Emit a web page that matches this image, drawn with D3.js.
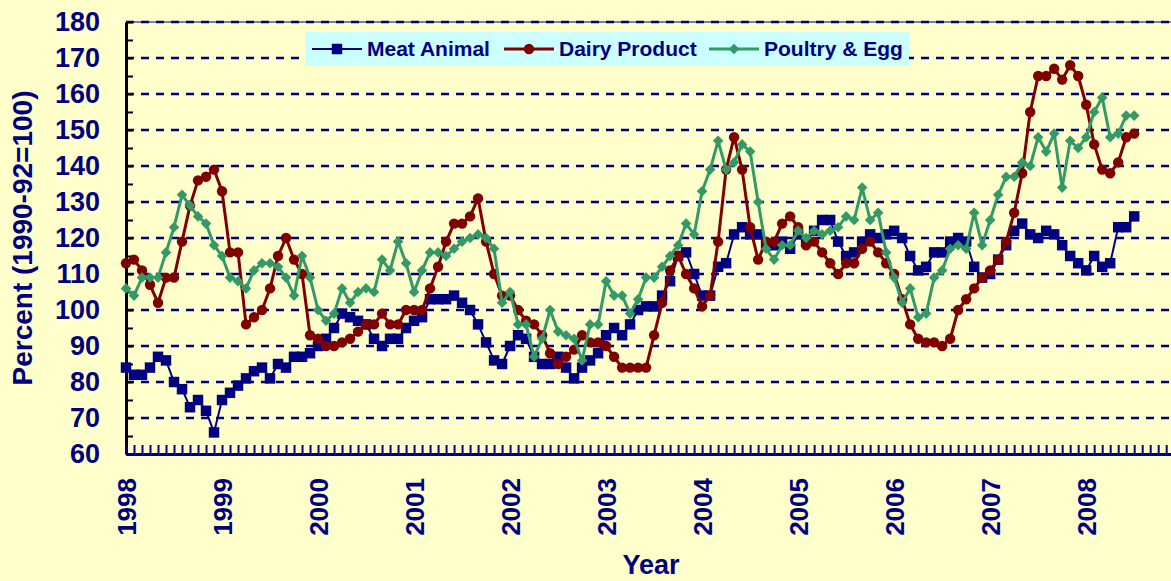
<!DOCTYPE html>
<html>
<head>
<meta charset="utf-8">
<script src="https://cdn.jsdelivr.net/npm/d3@7"></script>
<style>
  body { margin: 0; background: #ffffcc; }
  svg { display: block; }
  text { font-family: Arial, "Liberation Sans", sans-serif; font-weight: bold; fill: #000080; }
</style>
</head>
<body>
<svg class="chart"></svg>
<script>
// year labels on the x axis (one every 12 months, Jan 1998 .. Jan 2008)
var years = ["1998", "1999", "2000", "2001", "2002", "2003", "2004", "2005", "2006", "2007", "2008"];

var seriesNames = ["Meat Animal", "Dairy Product", "Poultry & Egg"];

// monthly index values, Jan 1998 .. Jul 2008
var meatAnimal = [
  84, 82, 82, 84, 87, 86, 80, 78, 73, 75, 72, 66,
  75, 77, 79, 81, 83, 84, 81, 85, 84, 87, 87, 88,
  90, 92, 95, 99, 98, 97, 96, 92, 90, 92, 92, 95,
  97, 98, 103, 103, 103, 104, 102, 100, 96, 91, 86, 85,
  90, 93, 92, 87, 85, 85, 87, 84, 81, 84, 86, 88,
  93, 95, 93, 96, 100, 101, 101, 104, 108, 115, 116, 110,
  104, 104, 112, 113, 121, 123, 121, 121, 118, 118, 119, 117,
  121, 119, 122, 125, 125, 119, 115, 116, 119, 121, 120, 121,
  122, 120, 115, 111, 112, 116, 116, 119, 120, 119, 112, 109,
  110, 114, 118, 122, 124, 121, 120, 122, 121, 118, 115, 113,
  111, 115, 112, 113, 123, 123, 126
];

var dairyProduct = [
  113, 114, 111, 107, 102, 109, 109, 119, 129, 136, 137, 139,
  133, 116, 116, 96, 98, 100, 106, 115, 120, 114, 110, 93,
  92, 90, 90, 91, 92, 94, 96, 96, 99, 96, 96, 100,
  100, 100, 106, 112, 119, 124, 124, 126, 131, 119, 110, 104,
  104, 100, 97, 96, 93, 88, 85, 87, 89, 93, 91, 91,
  90, 87, 84, 84, 84, 84, 93, 102, 111, 115, 110, 106,
  101, 104, 119, 139, 148, 139, 123, 114, 119, 119, 124, 126,
  123, 118, 119, 116, 113, 110, 113, 113, 117, 119, 116, 113,
  110, 103, 96, 92, 91, 91, 90, 92, 100, 103, 106, 109,
  111, 114, 119, 127, 138, 155, 165, 165, 167, 164, 168, 165,
  157, 146, 139, 138, 141, 148, 149
];

var poultryEgg = [
  106, 104, 109, 109, 109, 116, 123, 132, 129, 126, 124, 118,
  115, 109, 108, 106, 111, 113, 113, 112, 109, 104, 115, 109,
  100, 97, 99, 106, 102, 105, 106, 105, 114, 111, 119, 113,
  105, 111, 116, 116, 115, 117, 119, 120, 121, 120, 117, 102,
  105, 96, 96, 87, 92, 100, 94, 93, 92, 86, 96, 96,
  108, 104, 104, 99, 103, 109, 109, 112, 115, 118, 124, 121,
  133, 139, 147, 139, 141, 146, 144, 130, 117, 114, 118, 118,
  122, 120, 122, 121, 122, 123, 126, 125, 134, 125, 127, 116,
  109, 102, 106, 98, 99, 109, 111, 117, 118, 117, 127, 118,
  125, 132, 137, 137, 141, 140, 148, 144, 149, 134, 147, 145,
  148, 155, 159, 148, 149, 154, 154
];

var width = 1171, height = 581;

var svg = d3.select(".chart")
    .attr("width", width)
    .attr("height", height);

svg.append("rect")
    .attr("width", width)
    .attr("height", height)
    .attr("fill", "#ffffcc");

// month index -> pixel, the plot runs off the right edge of the picture
var x = d3.scaleLinear()
    .domain([0, 130.6])
    .range([126, 1171]);

var y = d3.scaleLinear()
    .domain([60, 180])
    .range([454, 22]);

// dashed horizontal grid
svg.append("g")
    .selectAll("line")
    .data(d3.range(70, 181, 10))
  .enter().append("line")
    .attr("x1", x(0))
    .attr("x2", width)
    .attr("y1", function(d){ return y(d); })
    .attr("y2", function(d){ return y(d); })
    .attr("stroke", "#000080")
    .attr("stroke-width", 2.6)
    .attr("stroke-dasharray", "8,7");

svg.append("line")
    .attr("x1", x(0)).attr("x2", width)
    .attr("y1", y(180)).attr("y2", y(180))
    .attr("stroke", "#000080")
    .attr("stroke-width", 1);

// y axis: black line, ticks every 5 pointing into the plot
var yTicks = svg.append("g")
    .attr("transform", "translate(" + x(0) + ",0)")
    .call(d3.axisRight(y)
      .tickValues(d3.range(60, 181, 5))
      .tickSize(7)
      .tickSizeOuter(0)
      .tickFormat(""));
yTicks.selectAll("line").attr("stroke", "#000").attr("stroke-width", 2);
yTicks.select(".domain").attr("stroke", "#000").attr("stroke-width", 3);

// y labels
var yLabels = svg.append("g")
    .attr("transform", "translate(" + x(0) + ",0)")
    .call(d3.axisLeft(y)
      .tickValues(d3.range(60, 181, 10))
      .tickSize(0)
      .tickPadding(26));
yLabels.select(".domain").remove();
yLabels.selectAll("text")
    .style("font-size", "27px")
    .style("font-family", "Arial, 'Liberation Sans', sans-serif")
    .style("font-weight", "bold")
    .attr("fill", "#000080");

// x axis: navy line with monthly ticks pointing up
var xTicks = svg.append("g")
    .attr("transform", "translate(0," + y(60) + ")")
    .call(d3.axisTop(x)
      .tickValues(d3.range(0, 131))
      .tickSize(9)
      .tickSizeOuter(0)
      .tickFormat(""));
xTicks.selectAll("line").attr("stroke", "#000080").attr("stroke-width", 2);
xTicks.select(".domain").attr("stroke", "#000080").attr("stroke-width", 3);

// rotated year labels
var xLabels = svg.append("g")
    .attr("transform", "translate(0," + y(60) + ")")
    .call(d3.axisBottom(x)
      .tickValues(years.map(function(d, i){ return i * 12; }))
      .tickSize(0)
      .tickFormat(function(d){ return years[d / 12]; }));
xLabels.select(".domain").remove();
xLabels.selectAll("text")
    .attr("transform", "translate(0,24) rotate(-90)")
    .attr("x", 0)
    .attr("y", 0)
    .attr("dy", "0.36em")
    .attr("text-anchor", "end")
    .style("font-size", "26px")
    .style("font-family", "Arial, 'Liberation Sans', sans-serif")
    .style("font-weight", "bold")
    .attr("fill", "#000080");

// axis titles
svg.append("text")
    .attr("transform", "translate(22,238) rotate(-90)")
    .attr("text-anchor", "middle")
    .attr("dy", "0.36em")
    .style("font-size", "28px")
    .text("Percent (1990-92=100)");

svg.append("text")
    .attr("x", 651)
    .attr("y", 574)
    .attr("text-anchor", "middle")
    .style("font-size", "27px")
    .text("Year");

// series
var line = d3.line()
    .x(function(d, i){ return x(i); })
    .y(function(d){ return y(d); });

var series = [
  {name: seriesNames[0], values: meatAnimal, color: "#000080", width: 2},
  {name: seriesNames[1], values: dairyProduct, color: "#800000", width: 3},
  {name: seriesNames[2], values: poultryEgg, color: "#339966", width: 3}
];

var square = d3.symbol().type(d3.symbolSquare).size(110);
var circle = d3.symbol().type(d3.symbolCircle).size(85);
var diamond = d3.symbol().type(d3.symbolSquare).size(56);

function marker(sel, k, color) {
  if (k === 0) {
    sel.attr("d", square);
  } else if (k === 1) {
    sel.attr("d", circle);
  } else {
    sel.attr("d", diamond);
  }
  sel.attr("fill", color);
}

series.forEach(function(s, k){
  var g = svg.append("g");
  g.append("path")
      .datum(s.values)
      .attr("fill", "none")
      .attr("stroke", s.color)
      .attr("stroke-width", s.width)
      .attr("stroke-linejoin", "round")
      .attr("d", line);
  g.selectAll("path.pt")
      .data(s.values)
    .enter().append("path")
      .attr("class", "pt")
      .attr("transform", function(d, i){
        return "translate(" + x(i) + "," + y(d) + ")" + (k === 2 ? " rotate(45)" : "");
      })
      .call(marker, k, s.color);
});

// legend
var legend = svg.append("g");
legend.append("rect")
    .attr("x", 305).attr("y", 32)
    .attr("width", 604).attr("height", 34)
    .attr("fill", "#ccffff");

var legendX = [312, 504, 709];
series.forEach(function(s, k){
  var lx = legendX[k];
  legend.append("line")
      .attr("x1", lx).attr("x2", lx + 50)
      .attr("y1", 49).attr("y2", 49)
      .attr("stroke", s.color)
      .attr("stroke-width", s.width);
  legend.append("path")
      .attr("transform", "translate(" + (lx + 25) + ",49)" + (k === 2 ? " rotate(45)" : ""))
      .call(marker, k, s.color);
  legend.append("text")
      .attr("x", lx + 55)
      .attr("y", 56)
      .style("font-size", "21px")
      .text(s.name);
});
</script>
</body>
</html>
